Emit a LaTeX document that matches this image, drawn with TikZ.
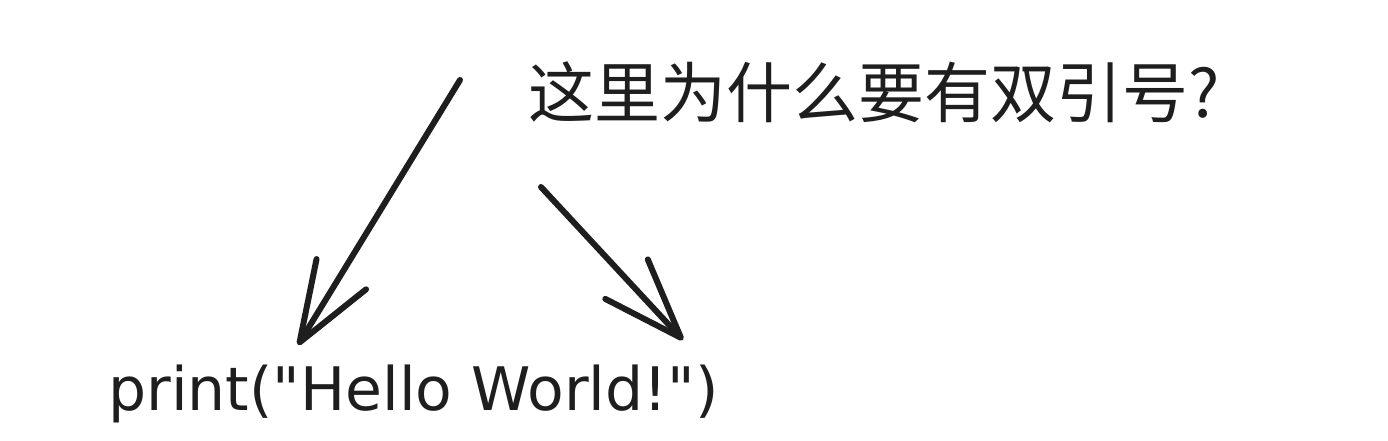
\documentclass[tikz,border=0pt]{standalone}
\usepackage{fontspec}
\setmainfont{Noto Sans}
\newfontfamily\cjk{Noto Sans CJK SC}
\newfontfamily\hand{DejaVu Sans}[Ligatures=TeXOff]
\usepackage{tikz}
\usetikzlibrary{arrows.meta}
\definecolor{ink}{HTML}{1E1E1E}
\tikzset{
  ask/.style={inner sep=0pt,text=ink,font=\cjk\fontsize{33}{36}\selectfont},
  code/.style={inner sep=0pt,text=ink,font=\hand\fontsize{30}{33}\selectfont},
  pointer/.style={-{Straight Barb[length=40pt,width=29pt,line cap=round,line join=round]},
    line width=3pt,color=ink,line cap=round}
}
\begin{document}
\begin{tikzpicture}[x=0.5pt,y=-0.5pt]
  \fill[white] (0,0) rectangle (1388,440);
  \useasboundingbox (0,0) rectangle (1388,440);
  % question and the code line
  \node[ask,anchor=base west] (q) at (528,117) {这里为什么要有双引号?};
  \node[code,anchor=base west] (pr) at (108,410) {print("Hello World!")};
  % free ends of the two pointers
  \coordinate (ls) at (460,80);
  \coordinate (lt) at (298,345);
  \coordinate (rs) at (541,187);
  \coordinate (rt) at (683,340);
  \draw[pointer] (ls) -- (lt);
  \draw[pointer] (rs) -- (rt);
\end{tikzpicture}
\end{document}
